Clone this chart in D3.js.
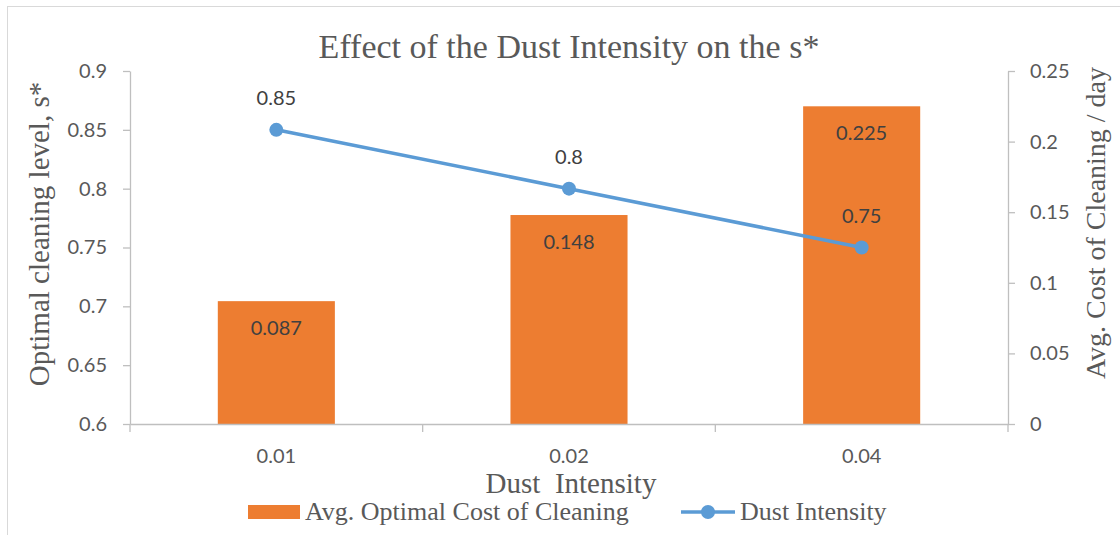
<!DOCTYPE html>
<html>
<head>
<meta charset="utf-8">
<script src="https://cdn.jsdelivr.net/npm/d3@7"></script>
<style>
    body { margin: 0; background: #fff; }
    .axis text { font-family: Lato, "Open Sans", sans-serif; font-size: 20px; fill: #595959; }
    .axis path, .axis line { stroke: #BFBFBF; stroke-width: 1.3; }
    .serif { font-family: "Liberation Serif", serif; fill: #595959; }
    .num { font-family: Lato, "Open Sans", sans-serif; font-size: 20px; fill: #404040; }
</style>
</head>
<body>
<svg id="chart"></svg>
<script>
    // chart data
    var categories = ['0.01', '0.02', '0.04'];
    var costValues = [0.087, 0.148, 0.225];
    var sValues = [0.85, 0.8, 0.75];
    var leftTicks = [0.6, 0.65, 0.7, 0.75, 0.8, 0.85, 0.9];
    var rightTicks = [0, 0.05, 0.1, 0.15, 0.2, 0.25];

    var width = 1120, height = 535;
    var margin = { left: 130, right: 112, top: 71, bottom: 111 };
    var in_width = width - margin.left - margin.right;
    var in_height = height - margin.top - margin.bottom;

    var barColor = '#ED7D31', lineColor = '#5B9BD5';

    var svg = d3.select('#chart')
        .attr('width', width)
        .attr('height', height);

    // outer frame
    svg.append('rect')
        .attr('x', 7.5).attr('y', 6.5)
        .attr('width', width + 20).attr('height', height + 20)
        .attr('fill', 'none')
        .attr('stroke', '#D9D9D9');

    // scales
    var xScale = d3.scaleBand().domain(categories).range([0, in_width])
        .paddingInner(0.6).paddingOuter(0.3);
    var yLeft = d3.scaleLinear().domain([0.6, 0.9]).range([in_height, 0]);
    var yRight = d3.scaleLinear().domain([0, 0.25]).range([in_height, 0]);

    var g = svg.append('g')
        .attr('transform', 'translate(' + margin.left + ',' + margin.top + ')');

    // bars (right axis)
    var bars = g.selectAll('.bar')
        .data(categories)
        .enter().append('g');

    bars.append('rect')
        .attr('x', function (d) { return xScale(d); })
        .attr('y', function (d, i) { return yRight(costValues[i]); })
        .attr('width', xScale.bandwidth())
        .attr('height', function (d, i) { return in_height - yRight(costValues[i]); })
        .attr('fill', barColor);

    bars.append('text')
        .attr('class', 'num')
        .attr('x', function (d) { return xScale(d) + xScale.bandwidth() / 2; })
        .attr('y', function (d, i) { return yRight(costValues[i]) + 34; })
        .attr('text-anchor', 'middle')
        .text(function (d, i) { return costValues[i]; });

    // left axis
    g.append('g')
        .attr('class', 'axis')
        .call(d3.axisLeft(yLeft).tickValues(leftTicks).tickSize(7).tickSizeOuter(0).tickPadding(16)
            .tickFormat(function (d) { return d3.format('')(+d.toFixed(2)); }));

    // right axis
    g.append('g')
        .attr('class', 'axis')
        .attr('transform', 'translate(' + in_width + ',0)')
        .call(d3.axisRight(yRight).tickValues(rightTicks).tickSize(7).tickSizeOuter(0).tickPadding(15)
            .tickFormat(function (d) { return d3.format('')(+d.toFixed(2)); }));

    // bottom axis, labels centered, ticks between categories
    var xAxisGroup = g.append('g')
        .attr('class', 'axis')
        .attr('transform', 'translate(0,' + in_height + ')')
        .call(d3.axisBottom(xScale).tickSize(0).tickPadding(25));

    var step = xScale.step();
    xAxisGroup.selectAll('.sep')
        .data(d3.range(categories.length + 1))
        .enter().append('line')
        .attr('class', 'sep')
        .attr('x1', function (i) { return xScale.range()[0] + i * step; })
        .attr('x2', function (i) { return xScale.range()[0] + i * step; })
        .attr('y1', 0)
        .attr('y2', 8);

    // line (left axis)
    var line = d3.line()
        .x(function (d, i) { return xScale(categories[i]) + xScale.bandwidth() / 2; })
        .y(function (d) { return yLeft(d); });

    g.append('path')
        .datum(sValues)
        .attr('d', line)
        .attr('fill', 'none')
        .attr('stroke', lineColor)
        .attr('stroke-width', 3.5);

    g.selectAll('.dot')
        .data(sValues)
        .enter().append('circle')
        .attr('cx', function (d, i) { return xScale(categories[i]) + xScale.bandwidth() / 2; })
        .attr('cy', function (d) { return yLeft(d); })
        .attr('r', 7)
        .attr('fill', lineColor);

    g.selectAll('.dotText')
        .data(sValues)
        .enter().append('text')
        .attr('class', 'num')
        .attr('x', function (d, i) { return xScale(categories[i]) + xScale.bandwidth() / 2; })
        .attr('y', function (d) { return yLeft(d) - 25; })
        .attr('text-anchor', 'middle')
        .text(function (d) { return d; });

    // title
    svg.append('text')
        .attr('class', 'serif')
        .attr('x', margin.left + in_width / 2)
        .attr('y', 58)
        .attr('text-anchor', 'middle')
        .style('font-size', '34px')
        .text('Effect of the Dust Intensity on the s*');

    // axis titles
    svg.append('text')
        .attr('class', 'serif')
        .attr('transform', 'translate(49,234) rotate(-90)')
        .attr('text-anchor', 'middle')
        .style('font-size', '29px')
        .text('Optimal cleaning level, s*');

    svg.append('text')
        .attr('class', 'serif')
        .attr('transform', 'translate(1105,223) rotate(-90)')
        .attr('text-anchor', 'middle')
        .style('font-size', '28px')
        .text('Avg. Cost of Cleaning / day');

    svg.append('text')
        .attr('class', 'serif')
        .attr('x', 571)
        .attr('y', 493)
        .attr('text-anchor', 'middle')
        .style('font-size', '29px')
        .style('white-space', 'pre')
        .text('Dust  Intensity');

    // legend
    var legend = svg.append('g');
    legend.append('rect')
        .attr('x', 248).attr('y', 505)
        .attr('width', 52).attr('height', 14)
        .attr('fill', barColor);
    legend.append('text')
        .attr('class', 'serif')
        .attr('x', 305).attr('y', 520)
        .style('font-size', '26px')
        .text('Avg. Optimal Cost of Cleaning');
    legend.append('line')
        .attr('x1', 681).attr('x2', 735)
        .attr('y1', 512).attr('y2', 512)
        .attr('stroke', lineColor)
        .attr('stroke-width', 3.5);
    legend.append('circle')
        .attr('cx', 708).attr('cy', 512).attr('r', 7)
        .attr('fill', lineColor);
    legend.append('text')
        .attr('class', 'serif')
        .attr('x', 740).attr('y', 520)
        .style('font-size', '26px')
        .text('Dust Intensity');
</script>
</body>
</html>
